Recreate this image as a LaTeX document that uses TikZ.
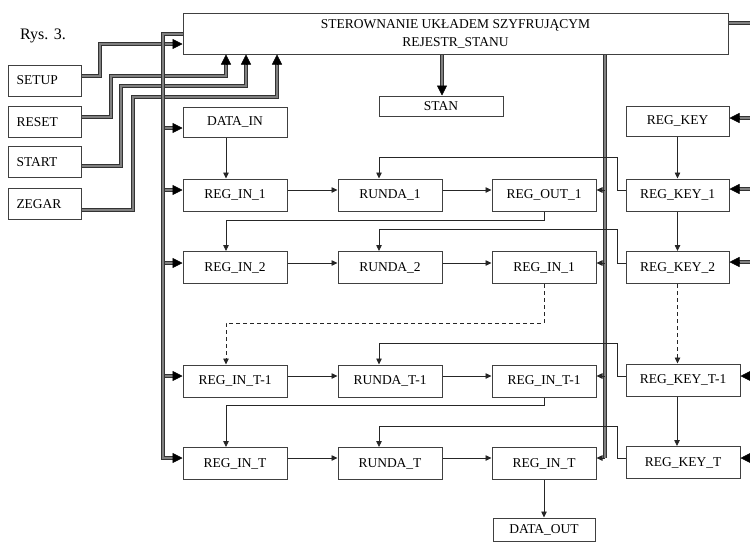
\documentclass[tikz,border=0pt]{standalone}
\usepackage{fontspec}
\setmainfont{Liberation Serif}
\usetikzlibrary{arrows.meta}
\begin{document}
\begin{tikzpicture}[x=1pt,y=-1pt,
  box/.style={draw=black!75, line width=1pt, fill=white, inner sep=0pt, font=\fontsize{13.5}{15}\selectfont},
  colbox/.style={box, minimum width=104pt, minimum height=32pt},
  inbox/.style={box, text width=56pt, inner xsep=8.5pt, minimum height=31pt, align=left},
  arr/.style={draw=black!85, line width=0.8pt, -{Triangle[length=6pt,width=5.5pt]}},
  dasharr/.style={arr, dash pattern=on 4pt off 3pt},
  bus/.style={draw=black!80, line width=0.7pt, double=black!50, double distance=2pt},
  bigtip/.style={draw=black, line width=0.5pt, -{Triangle[length=10pt,width=10pt]}}
]
\useasboundingbox (0,0) rectangle (750,544);

% title
\node[anchor=base west, font=\fontsize{16}{18}\selectfont, inner sep=0pt] (rys) at (20,39) {Rys. 3.};

% control unit
\node[box, minimum width=545pt, minimum height=41pt, align=center] (ctrl) at (455.5,33.5)
  {STEROWNANIE UKŁADEM SZYFRUJĄCYM\\[3pt]REJESTR\_STANU};
\node[box, minimum width=124pt, minimum height=20pt] (stan) at (441,106) {STAN};

% inputs
\node[inbox] (setup) at (44.5,80.5) {SETUP};
\node[inbox] (reset) at (44.5,122) {RESET};
\node[inbox] (start) at (44.5,162) {START};
\node[inbox] (zegar) at (44.5,204) {ZEGAR};

% data path
\node[colbox, minimum height=30pt] (datain) at (235,122) {DATA\_IN};
\node[colbox] (in1) at (235,195) {REG\_IN\_1};
\node[colbox] (r1) at (390,195) {RUNDA\_1};
\node[colbox] (out1) at (544,195) {REG\_OUT\_1};
\node[colbox] (in2) at (235,267.5) {REG\_IN\_2};
\node[colbox] (r2) at (390,267.5) {RUNDA\_2};
\node[colbox] (out2) at (544,267.5) {REG\_IN\_1};
\node[colbox] (in3) at (235,381) {REG\_IN\_T-1};
\node[colbox] (r3) at (390,381) {RUNDA\_T-1};
\node[colbox] (out3) at (544,381) {REG\_IN\_T-1};
\node[colbox] (in4) at (235,463.5) {REG\_IN\_T};
\node[colbox] (r4) at (390,463.5) {RUNDA\_T};
\node[colbox] (out4) at (544,463.5) {REG\_IN\_T};
\node[colbox, minimum width=102pt, minimum height=23pt] (dataout) at (544,529.5) {DATA\_OUT};

% key path
\node[colbox, minimum width=103pt, minimum height=30pt] (key) at (677.5,121) {REG\_KEY};
\node[colbox, minimum width=103pt] (k1) at (677.5,195) {REG\_KEY\_1};
\node[colbox, minimum width=103pt] (k2) at (677.5,267.5) {REG\_KEY\_2};
\node[colbox, minimum width=114pt] (k3) at (683,380) {REG\_KEY\_T-1};
\node[colbox, minimum width=114pt] (k4) at (683,462.5) {REG\_KEY\_T};

% ---- thick control lines ----
% inputs to control unit
\draw[bus] (setup.east |- 0,76) -- (100,76) -- (100,44) -- (173,44);
\draw[bigtip] (173,44) -- (ctrl.west |- 0,44);
\draw[bus] (reset.east |- 0,117) -- (111,117) -- (111,76) -- (226,76) -- (226,64);
\draw[bigtip] (226,64) -- (ctrl.south -| 226,0);
\draw[bus] (start.east |- 0,166) -- (121,166) -- (121,86) -- (246,86) -- (246,64);
\draw[bigtip] (246,64) -- (ctrl.south -| 246,0);
\draw[bus] (zegar.east |- 0,210) -- (133,210) -- (133,97) -- (277,97) -- (277,64);
\draw[bigtip] (277,64) -- (ctrl.south -| 277,0);

% control to STAN
\draw[bus] (ctrl.south -| 442,0) -- (442,86);
\draw[bigtip] (442,86) -- (stan.north -| 442,0);

% control outgoing right
\draw[bus] (ctrl.east |- 0,23) -- (751,23);

% left bus branches
\draw[bus] (165,128) -- (173,128);
\draw[bigtip] (173,128) -- (datain.west |- 0,128);
\draw[bus] (165,190) -- (173,190);
\draw[bigtip] (173,190) -- (in1.west |- 0,190);
\draw[bus] (165,263) -- (173,263);
\draw[bigtip] (173,263) -- (in2.west |- 0,263);
\draw[bus] (165,376) -- (173,376);
\draw[bigtip] (173,376) -- (in3.west |- 0,376);
% left bus
\draw[bus] (ctrl.west |- 0,34) -- (163,34) -- (163,458) -- (173,458);
\draw[bigtip] (173,458) -- (in4.west |- 0,458);

% right bus
\draw[bus] (ctrl.south -| 605,0) -- (605,458);
\draw[arr] (605,458) -- (out4.east |- 0,458);
\draw[arr] (605,190) -- (out1.east |- 0,190);
\draw[arr] (605,263) -- (out2.east |- 0,263);
\draw[arr] (605,376) -- (out3.east |- 0,376);

% key inputs from right
\draw[bus] (751,118) -- (739,118);
\draw[bigtip] (739,118) -- (key.east |- 0,118);
\draw[bus] (751,189) -- (739,189);
\draw[bigtip] (739,189) -- (k1.east |- 0,189);
\draw[bus] (751,262) -- (739,262);
\draw[bigtip] (739,262) -- (k2.east |- 0,262);
\draw[bigtip] (751,376) -- (k3.east |- 0,376);
\draw[bigtip] (751,458) -- (k4.east |- 0,458);

% ---- thin data connectors ----
\draw[arr] ([xshift=-9pt]datain.south) -- ([xshift=-9pt]in1.north);
\draw[arr] (in1.east |- 0,190) -- (r1.west |- 0,190);
\draw[arr] (r1.east |- 0,190) -- (out1.west |- 0,190);
\draw[arr] (in2.east |- 0,263) -- (r2.west |- 0,263);
\draw[arr] (r2.east |- 0,263) -- (out2.west |- 0,263);
\draw[arr] (in3.east |- 0,376) -- (r3.west |- 0,376);
\draw[arr] (r3.east |- 0,376) -- (out3.west |- 0,376);
\draw[arr] (in4.east |- 0,458) -- (r4.west |- 0,458);
\draw[arr] (r4.east |- 0,458) -- (out4.west |- 0,458);

\draw[arr] (out1.south) -- (544,220) -| ([xshift=-9pt]in2.north);
\draw[dasharr] (out2.south) -- (544,323) -| ([xshift=-9pt]in3.north);
\draw[arr] (out3.south) -- (544,405) -| ([xshift=-9pt]in4.north);
\draw[arr] (out4.south) -- (dataout.north);

% keys to rounds
\draw[arr] (k1.west |- 0,190) -- (617,190) -- (617,157) -| ([xshift=-11pt]r1.north);
\draw[arr] (k2.west |- 0,263) -- (617,263) -- (617,229) -| ([xshift=-11pt]r2.north);
\draw[arr] (k3.west |- 0,376) -- (617,376) -- (617,343) -| ([xshift=-11pt]r3.north);
\draw[arr] (k4.west |- 0,458) -- (617,458) -- (617,426) -| ([xshift=-11pt]r4.north);

% key chain
\draw[arr] (key.south) -- (k1.north);
\draw[arr] (k1.south) -- (k2.north);
\draw[dasharr] (k2.south) -- (k2.south |- k3.north);
\draw[arr] ([xshift=-6pt]k3.south) -- ([xshift=-6pt]k4.north);
\end{tikzpicture}
\end{document}
